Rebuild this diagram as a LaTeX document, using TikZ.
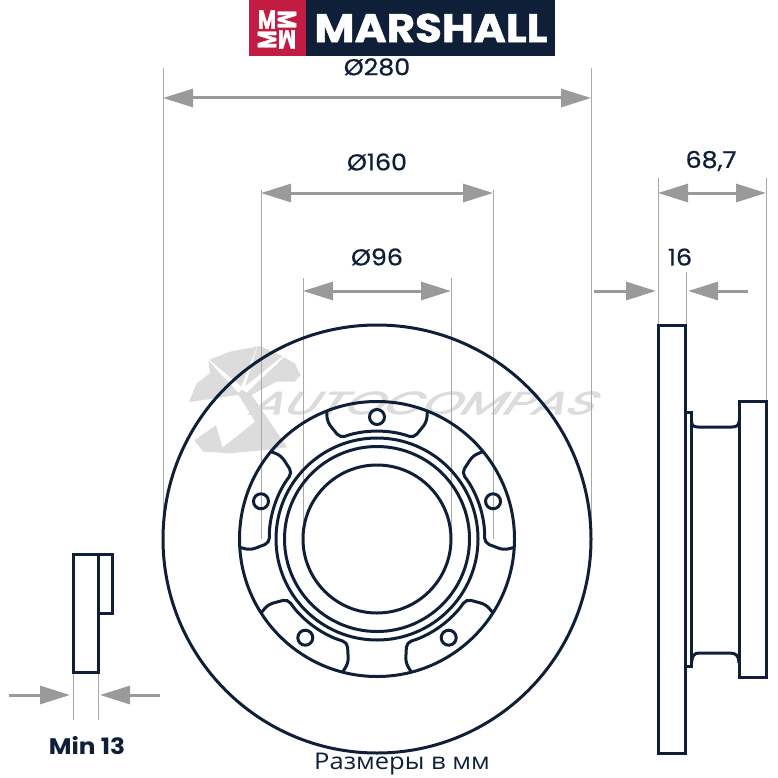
\documentclass[tikz,border=0pt]{standalone}
\usepackage{fontspec}
\usetikzlibrary{arrows.meta}
\setmainfont{Poppins}
\newfontfamily\dimfont[FakeBold=0.7]{Poppins}
\newfontfamily\wmfont[FakeSlant=0.45,FakeBold=2.2]{Poppins}
\newfontfamily\brandfont[BoldFeatures={FakeBold=1.2}]{Poppins}
\newfontfamily\rufont{Open Sans}
\definecolor{navy}{HTML}{0F1F38}
\definecolor{crimson}{HTML}{C21C42}
\definecolor{dimgray}{HTML}{9A9A9A}
\definecolor{wmgray}{HTML}{DCDCDC}

\begin{document}
\begin{tikzpicture}[x=1pt,y=1pt,
    part/.style={draw=navy,line width=3pt,line join=miter},
    dimline/.style={draw=dimgray,line width=3pt,-{Triangle[length=30pt,width=18pt]}},
    dimboth/.style={draw=dimgray,line width=3pt,{Triangle[length=30pt,width=18pt]}-{Triangle[length=30pt,width=18pt]}},
    extline/.style={draw=dimgray!85,line width=0.9pt},
    dimtext/.style={text=navy,inner sep=0pt,xscale=1.1,font=\dimfont\fontsize{23}{23}\selectfont},
    logomark/.style={text=white,inner sep=0pt,font=\brandfont\bfseries\fontsize{26}{26}\selectfont}]
  \useasboundingbox (0,0) rectangle (778,-778);

  % watermark
  \begin{scope}[shift={(180,-340)},x=0.333pt,y=-0.333pt]
    \fill[wmgray] (240,18) -- (290,40) -- (345,70) -- (362,105) -- (345,125) -- (290,125) -- (215,165)
      -- (322,322) -- (240,332) -- (150,340) -- (70,335) -- (45,305) -- (60,240) -- (30,210) -- (25,190)
      -- (50,130) -- (90,100) -- (85,60) -- (150,35) -- cycle;
    \fill[white] (20,188) -- (175,165) -- (225,245) -- (128,322) -- (108,255) -- (48,298) -- (20,240) -- cycle;
    \fill[white] (70,45) -- (190,145) -- (175,158) -- cycle;
    \fill[white] (350,15) -- (185,148) -- (200,158) -- cycle;
    \fill[white] (234,15) -- (180,150) -- (192,150) -- cycle;
  \end{scope}
  \node[text=wmgray,inner sep=0pt,font=\wmfont\fontsize{32}{32}\selectfont,xscale=1.55] (wmtext) at (419,-403) {AUTOCOMPAS};

  % logo
  \fill[crimson] (249,0) rectangle (306,-56);
  \fill[navy] (306,0) rectangle (555,-56);
  \node[logomark,xscale=0.76] (m1) at (267,-19.5) {M};
  \node[logomark,rotate=-90,xscale=0.76] (m2) at (287,-19.5) {M};
  \node[logomark,rotate=90,xscale=0.76] (m3) at (267,-39.5) {M};
  \node[logomark,rotate=180,xscale=0.76] (m4) at (287,-39.5) {M};
  \node[text=white,inner sep=0pt,xscale=1.09,font=\brandfont\bfseries\fontsize{40}{40}\selectfont] (brand) at (431,-28) {MARSHALL};

  % extension lines
  \foreach \x/\ya/\yb in {163/68/539,591/68/539,261/190/539,493/190/539,303/278/539,451/278/539,
      658/178/325,686/272/325,766/178/401,73/672/720,98/672/720}
    \draw[extline] (\x,-\ya) -- (\x,-\yb);

  % disc, front view
  \begin{scope}[shift={(377,-539)}]
    \draw[part] (0,0) circle[radius=214];
    \draw[part] (0,0) circle[radius=137.5];
    \draw[part] (0,0) circle[radius=101];
    \draw[part] (0,0) circle[radius=92.5];
    \draw[part] (0,0) circle[radius=74];
    \foreach \ang in {90,162,18,234,306} {
      \draw[part] (\ang:122) circle[radius=7.5];
      \begin{scope}[rotate=\ang-90]
        \draw[part,rounded corners=5pt] (111.5:137.5) -- (113:127) -- (110:107.5)
          arc[start angle=110,end angle=70,radius=107.5] -- (67:127) -- (68.5:137.5);
      \end{scope}
    }
  \end{scope}

  % disc, side view
  \draw[part] (658,-325) rectangle (685.5,-753);
  \draw[part] (685.5,-412) -- (691.5,-412) -- (691.5,-666) -- (685.5,-666);
  \draw[part] (691.5,-421) .. controls (691.5,-425) and (693,-427) .. (698,-427) -- (732,-427)
    .. controls (737,-427) and (739,-425) .. (739,-421);
  \draw[part] (691.5,-663) .. controls (692,-656) and (694,-653) .. (699,-653) -- (730,-653)
    .. controls (736,-653) and (739,-656) .. (739,-663);
  \draw[part] (739,-401) rectangle (766.5,-677);

  % min thickness section
  \draw[part] (73,-554) rectangle (98,-672);
  \draw[part] (98,-554) rectangle (112,-613);

  % dimensions
  \coordinate (a280) at (163,-98);
  \coordinate (b280) at (591,-98);
  \coordinate (a160) at (261,-193);
  \coordinate (b160) at (493,-193);
  \coordinate (a96) at (303,-291);
  \coordinate (b96) at (451,-291);
  \coordinate (a687) at (658,-193);
  \coordinate (b687) at (766,-193);
  \coordinate (a16) at (594,-291);
  \coordinate (b16) at (656,-291);
  \coordinate (c16) at (748,-291);
  \coordinate (d16) at (688,-291);
  \coordinate (a13) at (9,-695);
  \coordinate (b13) at (70,-695);
  \coordinate (c13) at (160,-695);
  \coordinate (d13) at (100,-695);
  \draw[dimboth] (a280) -- (b280);
  \draw[dimboth] (a160) -- (b160);
  \draw[dimboth] (a96) -- (b96);
  \draw[dimboth] (a687) -- (b687);
  \draw[dimline] (a16) -- (b16);
  \draw[dimline] (c16) -- (d16);
  \draw[dimline] (a13) -- (b13);
  \draw[dimline] (c13) -- (d13);

  \node[dimtext] (t280) at (377,-67) {Ø280};
  \node[dimtext] (t160) at (377,-162) {Ø160};
  \node[dimtext] (t96) at (377,-257) {Ø96};
  \node[dimtext] (t687) at (711,-161) {68,7};
  \node[dimtext] (t16) at (680,-257) {16};
  \node[dimtext,xscale=1,font=\bfseries\fontsize{22.5}{22.5}\selectfont] (t13) at (87,-746) {Min 13};
  \node[text=navy,inner sep=0pt,xscale=1.11,font=\rufont\fontsize{23}{23}\selectfont] (note) at (402,-764) {Размеры в мм};
\end{tikzpicture}
\end{document}
